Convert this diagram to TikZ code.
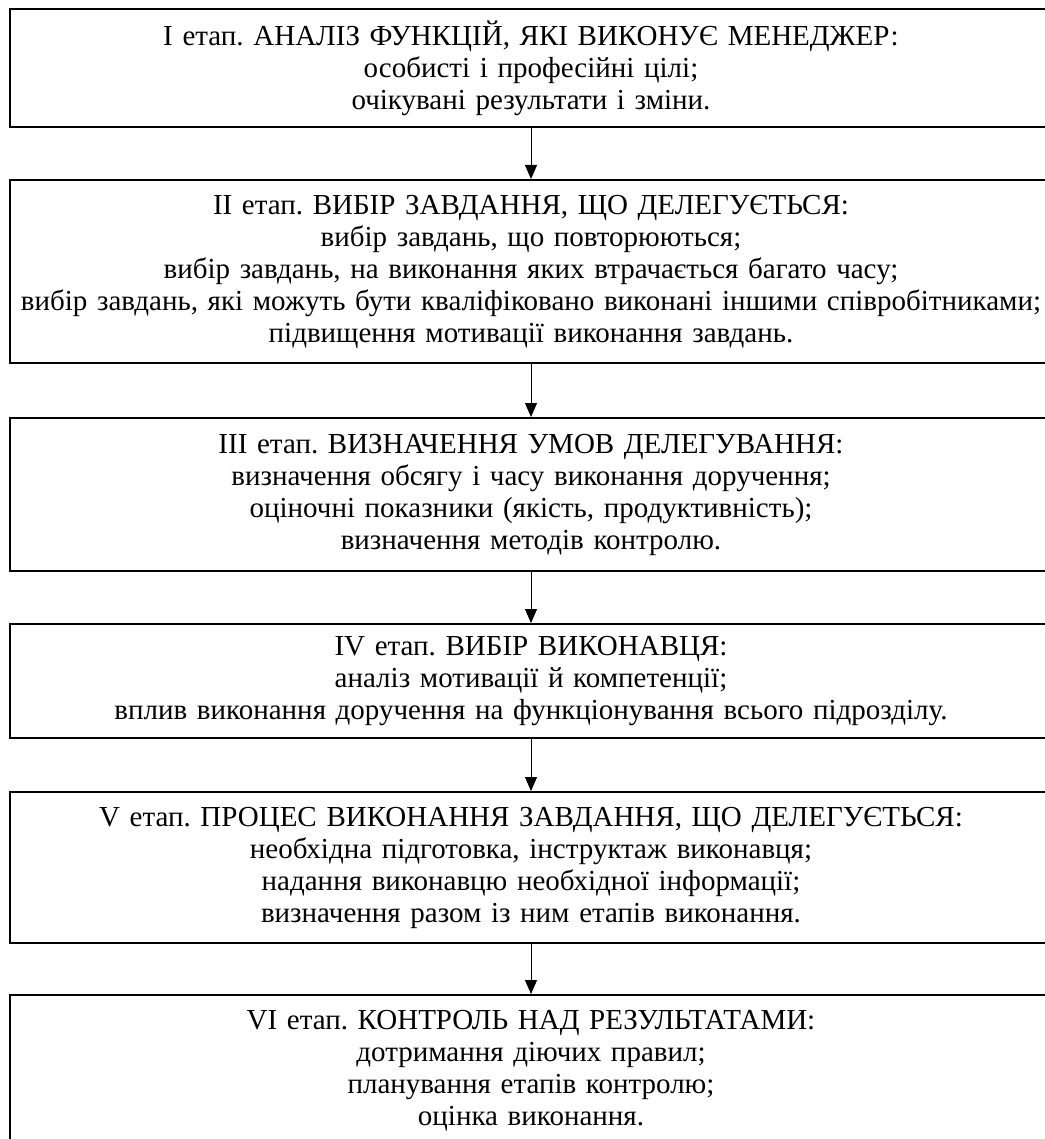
\documentclass[tikz,border=0pt]{standalone}
\usepackage{fontspec}
\setmainfont{Liberation Serif}
\usetikzlibrary{arrows.meta}
\frenchspacing

\begin{document}
\begin{tikzpicture}[x=0.5pt,y=-0.5pt,
    etap/.style={draw, line width=1pt, minimum width=521pt, text width=519pt,
      align=center, inner sep=0pt, font=\fontsize{14.5}{16}\selectfont},
    strilka/.style={-{Triangle[length=7pt,width=6pt]}, line width=0.5pt}]
  \useasboundingbox (0,0) rectangle (1044,1139);

  % etapy
  \node[etap, minimum height=59pt] (e1) at (531,68)
    {I етап. АНАЛІЗ ФУНКЦІЙ, ЯКІ ВИКОНУЄ МЕНЕДЖЕР:\\
     особисті і професійні цілі;\\
     очікувані результати і зміни.};
  \node[etap, minimum height=91.5pt] (e2) at (531,271.5)
    {II етап. ВИБІР ЗАВДАННЯ, ЩО ДЕЛЕГУЄТЬСЯ:\\
     вибір завдань, що повторюються;\\
     вибір завдань, на виконання яких втрачається багато часу;\\
     вибір завдань, які можуть бути кваліфіковано виконані іншими співробітниками;\\
     підвищення мотивації виконання завдань.};
  \node[etap, minimum height=76.5pt] (e3) at (531,494.5)
    {III етап. ВИЗНАЧЕННЯ УМОВ ДЕЛЕГУВАННЯ:\\
     визначення обсягу і часу виконання доручення;\\
     оціночні показники (якість, продуктивність);\\
     визначення методів контролю.};
  \node[etap, minimum height=57pt] (e4) at (531,681)
    {IV етап. ВИБІР ВИКОНАВЦЯ:\\
     аналіз мотивації й компетенції;\\
     вплив виконання доручення на функціонування всього підрозділу.};
  \node[etap, minimum height=75.5pt] (e5) at (531,867.5)
    {V етап. ПРОЦЕС ВИКОНАННЯ ЗАВДАННЯ, ЩО ДЕЛЕГУЄТЬСЯ:\\
     необхідна підготовка, інструктаж виконавця;\\
     надання виконавцю необхідної інформації;\\
     визначення разом із ним етапів виконання.};
  \node[etap, minimum height=75.5pt] (e6) at (531,1070.5)
    {VI етап. КОНТРОЛЬ НАД РЕЗУЛЬТАТАМИ:\\
     дотримання діючих правил;\\
     планування етапів контролю;\\
     оцінка виконання.};

  \foreach \a/\b in {e1/e2,e2/e3,e3/e4,e4/e5,e5/e6}
    \draw[strilka] (\a) -- (\b);
\end{tikzpicture}
\end{document}
